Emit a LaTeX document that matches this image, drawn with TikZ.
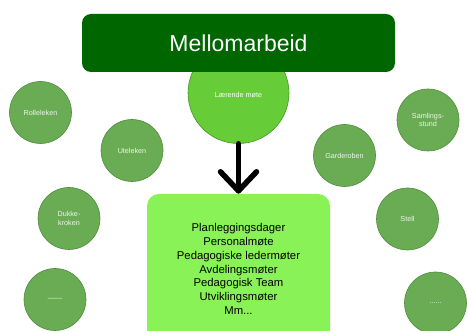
\documentclass[tikz,border=0pt]{standalone}
\usepackage{fontspec}
\setmainfont{Liberation Sans}
\definecolor{titlegreen}{RGB}{0,102,0}
\definecolor{lmgreen}{RGB}{102,204,56}
\definecolor{lmborder}{RGB}{70,150,40}
\definecolor{circgreen}{RGB}{106,172,84}
\definecolor{circborder}{RGB}{80,140,62}
\definecolor{boxgreen}{RGB}{136,242,86}
\definecolor{circtext}{RGB}{240,244,238}
\begin{document}
\begin{tikzpicture}[x=1pt,y=-1pt,
  smallcirc/.style={circle,fill=circgreen,draw=circborder,line width=0.6pt,minimum size=62pt,inner sep=0pt,
    text=circtext,font=\fontsize{7.2}{8.8}\selectfont,align=center},
  bigcirc/.style={circle,fill=lmgreen,draw=lmborder,line width=0.6pt,minimum size=101pt,inner sep=0pt,
    text=white,font=\fontsize{7.2}{8.8}\selectfont},
  titlebox/.style={rectangle,rounded corners=9pt,fill=titlegreen,minimum width=313pt,minimum height=58pt,
    inner sep=0pt,text=white,font=\fontsize{23}{27}\selectfont},
  listbox/.style={rectangle,rounded corners=12pt,fill=boxgreen,minimum width=183pt,minimum height=150pt,
    inner sep=0pt,text=black,font=\fontsize{11.3}{13.7}\selectfont,align=center},
  arrowline/.style={line width=5.5pt,line cap=round,line join=round,black}]
\clip (0,0) rectangle (467,331);
\fill[white] (0,0) rectangle (467,331);

% big circle behind title
\node[bigcirc] (lm) at (238.5,93) {};
\node[text=white,font=\fontsize{7.2}{8.8}\selectfont] (lmt) at (238.5,94.5) {Lærende møte};
\node[titlebox] (title) at (238.5,43) {Mellomarbeid};

% list box
\node[listbox] (list) at (238.5,269) {Planleggingsdager\\Personalmøte\\Pedagogiske ledermøter\\Avdelingsmøter\\Pedagogisk Team\\Utviklingsmøter\\Mm...};

% arrow
\coordinate (tip) at ([yshift=3pt]list.north);
\draw[arrowline] (lm.south) -- (tip);
\draw[arrowline] (tip) ++(-18,-19) -- (tip) -- ++(18,-19);

% small circles
\node[smallcirc] (rolle) at (40.5,112.5) {Rolleleken};
\node[smallcirc] (ute) at (132,150.5) {Uteleken};
\node[smallcirc] (dukke) at (69,218.5) {Dukke-\\kroken};
\node[smallcirc] (bl) at (55,299.5) {——};
\node[smallcirc] (garde) at (344.5,155.5) {Garderoben};
\node[smallcirc] (saml) at (428,120) {Samlings-\\stund};
\node[smallcirc] (stell) at (407.5,219) {Stell};
\node[smallcirc] (br) at (435.5,303) {......};
\end{tikzpicture}
\end{document}
